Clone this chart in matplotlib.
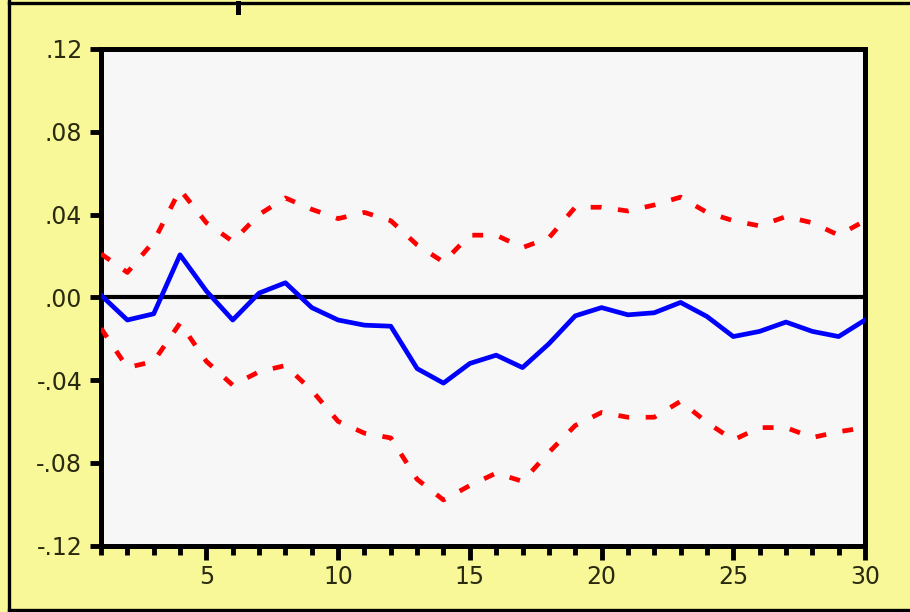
import matplotlib
matplotlib.use("Agg")
import matplotlib.pyplot as plt
from matplotlib.lines import Line2D
from matplotlib.ticker import MultipleLocator, FixedLocator

periods = list(range(1, 31))

response = [0.001, -0.011, -0.008, 0.0205, 0.003, -0.011, 0.002, 0.007, -0.005, -0.011,
            -0.0135, -0.014, -0.0345, -0.0415, -0.032, -0.028, -0.034, -0.0225, -0.009, -0.005,
            -0.0085, -0.0075, -0.0025, -0.0093, -0.019, -0.0165, -0.012, -0.0165, -0.019, -0.011]

upper = [0.021, 0.012, 0.027, 0.052, 0.036, 0.027, 0.040, 0.048, 0.0425, 0.038,
         0.041, 0.037, 0.0253, 0.017, 0.030, 0.030, 0.024, 0.0287, 0.0435, 0.0435,
         0.0417, 0.0446, 0.0484, 0.041, 0.037, 0.0345, 0.039, 0.036, 0.030, 0.037]

lower = [-0.015, -0.034, -0.031, -0.0125, -0.031, -0.0425, -0.036, -0.033, -0.045, -0.060,
         -0.0657, -0.068, -0.088, -0.098, -0.091, -0.085, -0.089, -0.075, -0.062, -0.0557,
         -0.058, -0.058, -0.0503, -0.0605, -0.069, -0.063, -0.063, -0.0678, -0.065, -0.063]

ytick_vals = [-0.12, -0.08, -0.04, 0.0, 0.04, 0.08, 0.12]
ytick_labels = ["-.12", "-.08", "-.04", ".00", ".04", ".08", ".12"]
xtick_vals = [5, 10, 15, 20, 25, 30]

W, H = 910, 612
fig = plt.figure(figsize=(W / 100, H / 100), dpi=100)
fig.patch.set_facecolor("#F8F898")

ax = fig.add_axes([101 / W, 1 - 545.5 / H, (865 - 101) / W, (545.5 - 49) / H])
ax.set_facecolor("#F7F7F7")

ax.axhline(0, color="black", lw=3.0, zorder=2)
ax.plot(periods, upper, color="#FF0000", lw=3.4, ls=(0, (2.3, 3.5)), zorder=3)
ax.plot(periods, lower, color="#FF0000", lw=3.4, ls=(0, (2.3, 3.5)), zorder=3)
ax.plot(periods, response, color="#0000FF", lw=3.4, zorder=4)

ax.set_xlim(1, 30)
ax.set_ylim(-0.12, 0.12)

ax.xaxis.set_major_locator(FixedLocator(xtick_vals))
ax.xaxis.set_minor_locator(MultipleLocator(1))
ax.set_yticks(ytick_vals)
ax.set_yticklabels(ytick_labels)

for s in ax.spines.values():
    s.set_linewidth(3.6)
    s.set_color("black")

ax.tick_params(axis="x", which="major", direction="out", length=10, width=3.5,
               labelsize=17, pad=4, labelcolor="#2a2a10")
ax.tick_params(axis="x", which="minor", direction="out", length=6.5, width=3.5)
ax.tick_params(axis="y", which="major", direction="out", length=8, width=3.5,
               labelsize=17, pad=5.5, labelcolor="#2a2a10")

# outer frame lines
fig.add_artist(Line2D([9 / W, 9 / W], [0, 1], color="black", lw=2.4))
fig.add_artist(Line2D([9 / W, 1], [1 - 3 / H, 1 - 3 / H], color="black", lw=2.4))
fig.add_artist(Line2D([9 / W, 1], [1 - 610 / H, 1 - 610 / H], color="black", lw=2.4))
fig.add_artist(Line2D([238 / W, 238 / W], [1 - 3 / H, 1 - 12 / H], color="black", lw=3.6))

fig.savefig("out.png", dpi=100, facecolor=fig.get_facecolor())
